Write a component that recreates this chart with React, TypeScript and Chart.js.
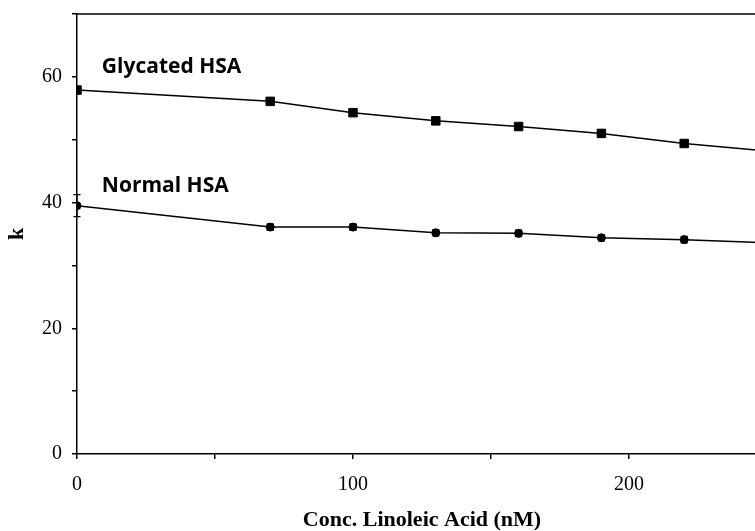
import React, { useEffect, useRef } from "react";
import { Chart, registerables } from "chart.js";

Chart.register(...registerables);

const concentrations = [0, 70, 100, 130, 160, 190, 220, 250];
const glycatedK = [57.9, 56.1, 54.3, 53.0, 52.1, 51.0, 49.4, 48.2];
const glycatedErr = [0, 0, 0.5, 0, 0, 0, 0, 0];
const normalK = [39.5, 36.1, 36.1, 35.2, 35.1, 34.4, 34.1, 33.6];
const normalErr = [1.75, 0.5, 0.5, 0.5, 0.5, 0.5, 0.5, 0.5];
const seriesLabels = ["Glycated HSA", "Normal HSA"];
const labelAnchors = [
  { x: 9, y: 61.6 },
  { x: 9, y: 42.7 },
];

const errorBarPlugin = {
  id: "errorBars",
  afterDatasetsDraw(chart: any) {
    const { ctx } = chart;
    const xs = chart.scales.x;
    const ys = chart.scales.y;
    chart.data.datasets.forEach((ds: any) => {
      const errs: number[] = ds.errors || [];
      ds.data.forEach((p: any, i: number) => {
        const e = errs[i];
        if (!e) return;
        const x = xs.getPixelForValue(p.x);
        const y1 = ys.getPixelForValue(p.y + e);
        const y2 = ys.getPixelForValue(p.y - e);
        ctx.save();
        ctx.strokeStyle = "#000";
        ctx.lineWidth = 1.3;
        ctx.beginPath();
        ctx.moveTo(x, y1);
        ctx.lineTo(x, y2);
        ctx.moveTo(x - 3.5, y1);
        ctx.lineTo(x + 3.5, y1);
        ctx.moveTo(x - 3.5, y2);
        ctx.lineTo(x + 3.5, y2);
        ctx.stroke();
        ctx.restore();
      });
    });
  },
};

const framePlugin = {
  id: "frameAndLabels",
  afterDraw(chart: any) {
    const { ctx, chartArea } = chart;
    const xs = chart.scales.x;
    const ys = chart.scales.y;
    ctx.save();
    ctx.strokeStyle = "#000";
    ctx.lineWidth = 1.5;
    ctx.beginPath();
    ctx.moveTo(chartArea.left, chartArea.top);
    ctx.lineTo(chartArea.right, chartArea.top);
    ctx.stroke();
    ctx.fillStyle = "#000";
    ctx.font = "bold 21px 'Open Sans'";
    ctx.textBaseline = "middle";
    ctx.textAlign = "left";
    seriesLabels.forEach((t, i) => {
      ctx.fillText(t, xs.getPixelForValue(labelAnchors[i].x), ys.getPixelForValue(labelAnchors[i].y));
    });
    ctx.restore();
  },
};

export default function App() {
  const ref = useRef<HTMLCanvasElement | null>(null);
  useEffect(() => {
    if (!ref.current) return;
    const serif = "'Liberation Serif', 'Times New Roman', serif";
    const chart = new Chart(ref.current, {
      type: "line",
      data: {
        datasets: [
          {
            label: seriesLabels[0],
            data: concentrations.map((x, i) => ({ x, y: glycatedK[i] })),
            errors: glycatedErr,
            borderColor: "#000",
            backgroundColor: "#000",
            borderWidth: 1.5,
            pointStyle: "rect",
            pointRadius: 6,
            pointBorderWidth: 1,
            tension: 0,
          } as any,
          {
            label: seriesLabels[1],
            data: concentrations.map((x, i) => ({ x, y: normalK[i] })),
            errors: normalErr,
            borderColor: "#000",
            backgroundColor: "#000",
            borderWidth: 1.5,
            pointStyle: "circle",
            pointRadius: 4,
            pointBorderWidth: 1,
            tension: 0,
          } as any,
        ],
      },
      options: {
        animation: false,
        responsive: true,
        maintainAspectRatio: false,
        layout: { padding: { top: 14, right: 8, left: 0, bottom: 0 } },
        plugins: { legend: { display: false }, tooltip: { enabled: false } },
        scales: {
          x: {
            type: "linear",
            min: 0,
            max: 250,
            afterFit: (s: any) => {
              s.height = 77;
              s.paddingLeft = 0;
              s.paddingRight = 0;
            },
            ticks: {
              stepSize: 50,
              autoSkip: false,
              maxRotation: 0,
              padding: 14,
              color: "#000",
              font: { family: serif, size: 20 },
              callback: (v: any) => (Number(v) % 100 === 0 ? String(v) : ""),
            },
            grid: {
              display: true,
              drawOnChartArea: false,
              drawTicks: true,
              tickLength: 5,
              color: "#000",
              lineWidth: 1.5,
            },
            border: { display: true, color: "#000", width: 1.5 },
            title: {
              display: true,
              text: "Conc. Linoleic Acid (nM)",
              color: "#000",
              font: { family: serif, size: 22, weight: "bold", lineHeight: 1.0 },
              padding: { top: 0, bottom: 0 },
            },
          },
          y: {
            type: "linear",
            min: 0,
            max: 70,
            afterFit: (s: any) => {
              s.width = 77;
              s.paddingTop = 0;
              s.paddingBottom = 0;
            },
            ticks: {
              stepSize: 10,
              autoSkip: false,
              padding: 10,
              color: "#000",
              font: { family: serif, size: 20 },
              callback: (v: any) => (Number(v) % 20 === 0 ? String(v) : ""),
            },
            grid: {
              display: true,
              drawOnChartArea: false,
              drawTicks: true,
              tickLength: 5,
              color: "#000",
              lineWidth: 1.5,
            },
            border: { display: true, color: "#000", width: 1.5 },
            title: {
              display: true,
              text: "k",
              color: "#000",
              font: { family: serif, size: 22, weight: "bold" },
              padding: { top: 4, bottom: 0 },
            },
          },
        },
      },
      plugins: [errorBarPlugin, framePlugin],
    } as any);
    return () => chart.destroy();
  }, []);

  return (
    <div
      style={{
        position: "fixed",
        left: 0,
        top: 0,
        width: 755,
        height: 531,
        overflow: "hidden",
        background: "#fff",
      }}
    >
      <div style={{ position: "relative", width: 775, height: 531 }}>
        <canvas ref={ref} />
      </div>
    </div>
  );
}
